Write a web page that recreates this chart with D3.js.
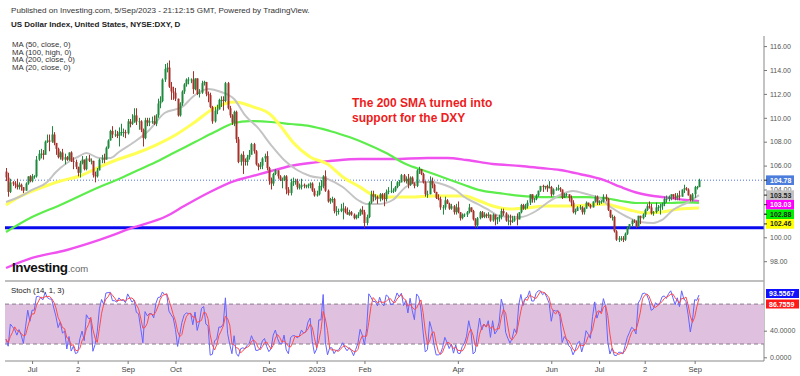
<!DOCTYPE html>
<html><head><meta charset="utf-8">
<script src="https://cdn.jsdelivr.net/npm/d3@7"></script>
<style>body{margin:0;background:#fff;} svg{display:block;font-family:"Liberation Sans",Arial,sans-serif;}</style>
</head><body><svg id="c" width="800" height="376"></svg>
<script>
// ---------------- DATA ----------------
const startDate = [2022, 5, 15]; // first bar: 15 Jun 2022, daily weekday bars
const firstOpen = 105.5;
const closes = [
105.0,103.8,104.6,104.5,104.4,104.2,104.4,104.2,103.9,104.5,105.1,104.7,
105.1,105.1,106.5,107.0,107.0,106.9,108.0,108.1,108.0,108.6,107.9,107.4,106.7,107.1,106.5,106.7,106.5,107.1,106.4,106.3,105.9,
105.4,106.2,106.5,105.7,106.6,106.4,106.4,105.2,105.1,105.6,106.5,106.6,106.5,107.5,108.1,108.9,108.6,108.6,108.5,108.8,108.8,108.8,108.7,
109.7,109.5,109.6,110.2,109.7,109.7,109.0,108.3,109.8,109.6,109.7,109.7,109.5,110.2,111.2,111.4,113.2,114.1,114.2,112.6,112.2,112.1,
111.6,110.2,111.2,112.2,112.8,113.2,113.2,113.2,112.4,113.3,112.0,112.1,112.9,113.0,112.0,111.9,110.9,109.7,110.6,110.7,111.5,
111.5,111.4,112.9,110.8,110.2,109.6,110.5,108.2,106.3,106.9,106.4,106.3,106.7,106.9,107.8,107.2,106.1,105.9,106.0,106.6,106.8,105.8,
104.7,104.5,105.3,105.6,105.1,104.8,104.8,105.1,104.0,103.7,104.6,104.7,104.7,104.2,104.2,104.4,104.3,104.3,104.4,104.5,103.9,103.5,
103.6,104.3,104.3,105.1,103.9,103.0,103.2,103.2,102.2,102.2,102.2,102.4,102.4,102.1,101.9,102.1,101.9,101.6,101.8,101.9,102.3,102.1,
101.2,101.7,102.9,103.6,103.4,103.4,103.2,103.6,103.3,103.2,103.8,103.9,103.9,103.9,104.2,104.6,104.6,105.2,104.7,104.9,
104.4,105.0,104.5,104.3,105.6,105.7,105.3,104.6,103.6,103.6,104.7,104.4,103.8,103.3,103.2,102.5,102.5,103.1,102.8,102.4,102.6,102.1,102.5,
102.1,101.6,101.9,101.9,102.1,102.5,102.2,101.5,101.0,101.6,102.1,101.7,101.9,101.8,101.9,101.4,101.9,101.5,101.6,101.7,
102.2,102.0,101.4,101.4,101.3,101.4,101.6,101.5,102.1,102.7,102.4,102.6,102.9,103.6,103.2,103.2,103.5,103.9,104.3,104.2,104.3,104.1,104.2,
103.6,104.0,104.0,104.1,104.0,103.3,103.6,103.6,103.3,102.9,102.1,102.2,102.5,102.5,102.1,102.4,102.9,102.7,102.5,103.0,103.4,102.9,
103.0,103.0,103.4,103.2,102.3,101.7,101.7,100.5,99.8,99.9,99.9,99.8,100.3,100.8,101.1,101.4,101.3,100.9,101.8,101.6,101.9,
102.3,102.6,102.5,102.0,102.1,102.5,102.5,102.6,102.8,103.2,103.2,103.4,103.6,103.4,103.3,103.5,103.4,104.0,104.1,104.0,103.5,103.1,103.6,
104.2,104.2,104.78];
const highs = [
105.8,105.4,104.9,104.7,104.7,104.9,104.6,104.5,104.2,104.6,105.1,105.2,
105.3,105.2,106.8,107.3,107.4,107.3,108.1,108.6,108.6,109.3,108.8,107.8,107.5,107.2,107.4,107.0,106.8,107.1,107.2,106.7,106.5,
105.9,106.4,106.8,106.5,106.8,106.9,106.6,106.4,105.5,105.8,106.6,106.9,107.0,107.6,108.2,109.0,109.3,109.0,108.9,109.2,109.5,109.1,109.0,
109.9,109.9,110.3,110.8,110.8,110.0,109.8,109.1,110.0,110.0,110.0,110.1,110.2,110.3,111.6,111.8,113.3,114.5,114.6,114.8,113.0,112.6,
112.5,111.6,111.3,112.3,112.9,113.3,113.4,113.3,113.9,113.3,113.3,112.4,113.1,113.1,113.0,112.2,112.1,111.0,110.9,111.1,111.6,
111.8,111.8,113.0,113.0,111.0,110.3,110.6,110.6,108.4,107.0,107.2,106.6,106.9,107.3,107.9,107.9,107.3,106.2,106.3,106.7,107.0,107.2,
105.9,105.0,105.4,105.7,105.6,105.2,105.0,105.2,105.2,104.2,104.9,105.0,104.9,104.9,104.5,104.9,104.5,104.4,104.5,104.6,104.6,104.1,
103.9,104.6,104.8,105.2,105.6,104.0,103.3,103.4,103.3,102.6,102.4,102.8,102.9,102.6,102.5,102.3,102.2,102.0,101.9,102.1,102.4,102.6,
102.3,101.9,103.0,103.9,103.9,103.6,103.5,103.7,103.7,103.7,104.0,104.2,104.7,104.1,104.3,104.7,104.8,105.3,105.3,105.1,
105.3,105.1,105.1,104.6,105.7,105.9,105.7,105.4,104.7,103.9,105.1,105.0,104.5,103.8,103.6,103.4,102.7,103.4,103.2,102.9,102.8,102.7,102.8,
103.0,102.1,102.0,102.0,102.2,102.8,102.5,102.3,101.6,101.7,102.2,102.2,102.1,102.0,102.1,101.9,102.0,101.9,101.7,101.9,
102.4,102.4,102.1,101.9,101.9,101.8,101.8,102.0,102.1,102.8,102.8,102.8,103.1,103.6,103.6,103.3,103.6,103.9,104.3,104.4,104.3,104.4,104.7,
104.3,104.1,104.2,104.4,104.2,104.0,103.7,103.7,103.6,103.5,103.1,102.4,102.6,102.7,102.6,102.5,103.0,102.9,102.8,103.0,103.5,103.5,
103.1,103.1,103.6,103.6,103.3,102.3,101.9,101.8,100.6,100.1,100.1,100.1,100.4,100.9,101.1,101.5,101.5,101.4,101.8,101.8,102.0,
102.4,102.8,103.0,102.8,102.2,102.9,102.7,102.8,102.9,103.4,103.5,103.5,103.6,103.6,103.7,103.7,103.9,104.0,104.4,104.2,104.1,103.6,103.7,
104.3,104.3,104.9];
const lows = [
104.7,103.4,103.7,104.3,104.1,104.0,104.0,103.9,103.7,103.9,104.4,104.6,
104.6,104.9,105.0,106.4,106.6,106.5,107.1,107.9,107.2,107.9,107.7,106.9,106.6,106.5,106.4,106.1,106.4,106.4,106.3,105.7,105.7,
105.1,105.0,106.1,105.6,105.6,106.3,106.1,105.0,104.6,105.0,105.6,106.2,106.2,106.5,107.4,108.1,108.3,108.4,108.3,107.6,108.5,108.4,108.3,
108.6,109.2,109.4,109.6,109.4,109.0,108.8,107.6,108.2,109.3,109.3,109.5,109.4,109.3,110.0,110.8,111.3,113.0,113.8,112.5,111.5,111.5,
111.4,110.1,110.1,111.0,112.0,112.6,112.8,112.9,112.0,112.3,111.9,111.7,112.0,112.7,111.8,111.3,110.8,109.5,109.6,110.3,110.7,
110.9,110.6,111.3,110.7,110.0,109.4,109.3,107.9,106.2,106.0,105.3,106.0,106.0,106.5,107.0,107.0,106.0,105.6,105.7,105.7,106.3,105.6,
104.4,104.0,104.3,105.2,104.9,104.7,104.1,104.7,103.6,103.5,103.5,104.3,104.4,104.0,104.0,104.0,104.1,104.1,104.1,104.1,103.8,103.4,
103.4,103.5,103.9,104.1,103.8,102.9,102.8,102.9,102.0,101.8,101.9,102.1,101.5,102.0,101.9,101.8,101.8,101.5,101.5,101.6,101.8,101.9,
100.8,101.0,101.6,102.8,103.0,103.1,102.8,103.0,103.1,102.6,103.0,103.6,103.7,103.7,103.8,104.1,104.3,104.6,104.6,104.5,
104.1,104.3,104.5,104.1,104.2,105.3,105.2,104.5,103.4,103.3,103.6,104.1,103.7,103.2,103.1,102.3,101.9,102.3,102.8,102.3,102.3,101.9,101.9,
102.0,101.4,101.5,101.7,101.7,102.0,102.1,101.4,100.8,100.8,101.5,101.6,101.6,101.6,101.6,101.3,101.3,101.0,101.1,101.3,
101.5,101.8,101.3,101.0,101.0,101.2,101.3,101.0,101.5,102.0,102.3,102.3,102.4,102.7,102.9,102.9,103.1,103.4,103.8,103.8,104.0,103.8,104.1,
103.4,103.5,103.9,103.9,103.8,103.2,103.3,103.4,103.0,102.6,102.0,101.9,102.2,102.3,101.9,101.9,102.4,102.6,102.4,102.5,102.9,102.7,
102.7,102.8,102.9,103.0,102.2,101.6,101.4,100.4,99.7,99.6,99.7,99.6,99.7,100.2,100.7,100.9,101.2,100.8,100.9,101.1,101.5,
101.7,102.2,102.4,101.9,101.8,102.0,102.2,101.9,102.3,102.6,102.9,103.0,103.1,103.2,103.1,103.1,103.1,103.4,103.7,103.9,103.5,103.0,103.0,
103.3,104.0,104.2];

// Moving averages: [bar index, value]
const ma50 = [[0,102.70],[6,103.37],[16,104.13],[25,104.71],[34,105.13],[43,105.88],[52,106.55],[59,106.97],[69,107.72],[78,108.56],[87,109.65],[96,110.82],[105,111.32],[114,110.90],[122,110.23],[126,109.4],[132,107.97],[140,106.72],[148,106.13],[155,105.05],[163,104.2],[168,103.62],[175,103.37],[186,103.37],[197,103.46],[211,103.46],[218,103.04],[224,102.62],[232,102.37],[240,102.46],[249,102.62],[260,102.62],[269,102.70],[276,102.79],[280,102.62],[287,102.29],[295,102.03],[302,102.12],[310,102.37],[319,102.46]];
const ma100 = [[0,100.44],[12,101.69],[25,102.70],[43,104.21],[52,104.88],[59,105.46],[69,106.30],[78,107.14],[87,107.97],[96,108.81],[105,109.56],[112,109.73],[122,109.65],[131,109.48],[140,109.31],[149,108.90],[158,108.39],[165,107.89],[175,107.05],[184,106.13],[193,105.55],[202,104.96],[211,104.38],[218,103.95],[227,103.70],[237,103.46],[246,103.37],[255,103.37],[267,103.37],[275,103.29],[283,103.04],[290,102.87],[298,102.87],[306,102.87],[313,102.92],[319,102.88]];
const ma200 = [[0,97.43],[12,98.27],[28,98.94],[43,99.78],[58,100.78],[74,101.78],[82,102.62],[93,103.71],[105,104.71],[112,105.05],[122,105.55],[131,105.97],[140,106.22],[149,106.38],[163,106.55],[178,106.55],[194,106.64],[203,106.64],[212,106.47],[224,106.13],[237,105.97],[246,105.80],[255,105.63],[264,105.30],[275,104.80],[283,104.21],[291,103.71],[298,103.46],[306,103.29],[313,103.12],[319,103.03]];
const ma20 = [[0,102.95],[6,103.37],[12,103.96],[19,104.63],[23,105.46],[28,106.22],[33,106.72],[37,107.05],[43,106.64],[48,106.64],[52,107.14],[59,107.97],[66,108.98],[73,110.40],[81,110.90],[87,111.91],[93,112.41],[99,112.16],[105,111.57],[110,110.23],[116,109.15],[122,107.72],[128,106.47],[134,105.63],[140,105.13],[148,104.88],[155,104.21],[162,103.12],[166,102.79],[172,102.79],[178,103.12],[184,104.21],[190,104.63],[196,104.63],[202,104.38],[207,103.96],[211,103.37],[217,102.79],[223,102.20],[227,101.78],[237,101.70],[244,102.20],[249,102.87],[255,103.54],[261,103.87],[267,103.62],[273,103.29],[279,102.45],[286,101.70],[292,101.28],[298,101.20],[302,101.45],[307,102.28],[314,102.95],[319,103.53]];

const priceTicks = [98,100,102,104,106,108,110,112,114,116];
const stochTicks = [0,40];
const xTickDates = ["2022-07-01","2022-08-01","2022-09-01","2022-10-01","2022-12-01","2023-01-01","2023-02-01","2023-04-01","2023-06-01","2023-07-01","2023-08-01","2023-09-01"];
const xTickLabels = ["Jul","2","Sep","Oct","Dec","2023","Feb","Apr","Jun","Jul","2","Sep"];
const supportLevel = 100.8;
const lastPrice = 104.78;
const stochLabels = [93.5567, 86.7559];
const stochBand = [20, 80];
const maLegend = ["MA (50, close, 0)","MA (100, high, 0)","MA (200, close, 0)","MA (20, close, 0)"];

// ---------------- CHART ----------------
const svg = d3.select("#c");
const n = closes.length;
const dates = [];
let dd = new Date(startDate[0], startDate[1], startDate[2]);
while (dates.length < n) { const w = dd.getDay(); if (w !== 0 && w !== 6) dates.push(new Date(dd)); dd = d3.timeDay.offset(dd, 1); }
const opens = closes.map((c, i) => i === 0 ? firstOpen : closes[i - 1]);

const axisX = 764, left = 5;
const x = d3.scaleLinear().domain([0, n - 1]).range([6, 699]);
const y = d3.scaleLinear().domain([98, 116]).range([261.2, 46.1]);
const ys = d3.scaleLinear().domain([0, 100]).range([357.3, 290.8]);

// header
svg.append("text").attr("x", 11).attr("y", 13.3).attr("font-size", 8.1).attr("fill", "#333")
  .text("Published on Investing.com, 5/Sep/2023 - 21:12:15 GMT, Powered by TradingView.");
svg.append("text").attr("x", 11).attr("y", 26.7).attr("font-size", 8).attr("font-weight", "bold").attr("fill", "#222")
  .text("US Dollar Index, United States, NYSE:DXY, D");
maLegend.forEach((t, i) => svg.append("text").attr("x", 12).attr("y", 46.7 + i * 7.8).attr("font-size", 7.8).attr("fill", "#333").text(t));

// horizontal lines
svg.append("line").attr("x1", left).attr("x2", axisX).attr("y1", y(lastPrice)).attr("y2", y(lastPrice))
  .attr("stroke", "#4a6fe0").attr("stroke-width", 1).attr("stroke-dasharray", "1,2");
svg.append("line").attr("x1", left).attr("x2", axisX).attr("y1", y(supportLevel)).attr("y2", y(supportLevel))
  .attr("stroke", "#0a0aee").attr("stroke-width", 3);

// MAs
const maLine = d3.line().x(d => x(d[0])).y(d => y(d[1])).curve(d3.curveMonotoneX);
[[ma200, "#f052f0", 2.4], [ma100, "#5ced4c", 2.2], [ma50, "#ffff55", 3], [ma20, "#c4c4c4", 2]].forEach(([arr, col, w]) => {
  svg.append("path").attr("d", maLine(arr)).attr("fill", "none").attr("stroke", col).attr("stroke-width", w);
});

// candles
const up = "#1f8a3c", dn = "#a8302b";
const cg = svg.append("g");
closes.forEach((c, i) => {
  const o = opens[i], col = c >= o ? up : dn, cx = Math.round(x(i)) + 0.5;
  cg.append("line").attr("x1", cx).attr("x2", cx).attr("y1", y(highs[i])).attr("y2", y(lows[i])).attr("stroke", col).attr("stroke-width", 1);
  const top = y(Math.max(o, c)), bot = y(Math.min(o, c));
  cg.append("rect").attr("x", cx - 1).attr("width", 2).attr("y", top).attr("height", Math.max(0.8, bot - top)).attr("fill", col);
});

// price axis
svg.append("line").attr("x1", axisX).attr("x2", axisX).attr("y1", 36).attr("y2", 361).attr("stroke", "#888").attr("stroke-width", 1);
const pa = svg.append("g").attr("transform", `translate(${axisX},0)`)
  .call(d3.axisRight(y).tickValues(priceTicks).tickFormat(d3.format(".2f")).tickSize(3).tickSizeOuter(0).tickPadding(3));
pa.select(".domain").remove();
pa.selectAll("line").attr("stroke", "#777");
pa.selectAll("text").attr("font-size", 7).attr("fill", "#555").attr("font-family", "Liberation Sans, Arial");

// price labels
const boxes = [
  {v: lastPrice, bg: "#4d7ddc", fg: "#fff"},
  {v: ma20[ma20.length - 1][1], bg: "#c2c2c2", fg: "#222"},
  {v: ma200[ma200.length - 1][1], bg: "#ff00ff", fg: "#fff"},
  {v: ma100[ma100.length - 1][1], bg: "#00f000", fg: "#222"},
  {v: ma50[ma50.length - 1][1], bg: "#ffff00", fg: "#222"}
].sort((a, b) => b.v - a.v);
let prevBottom = -1e9; const bh = 9.6;
boxes.forEach(b => {
  let t = y(b.v) - bh / 2; if (t < prevBottom) t = prevBottom; prevBottom = t + bh;
  svg.append("rect").attr("x", axisX + 2).attr("y", t).attr("width", 28).attr("height", bh).attr("fill", b.bg);
  svg.append("line").attr("x1", axisX).attr("x2", axisX + 3).attr("y1", t + bh / 2).attr("y2", t + bh / 2).attr("stroke", "#222");
  svg.append("text").attr("x", axisX + 6).attr("y", t + bh / 2 + 2.5).attr("font-size", 7).attr("font-weight", "bold").attr("fill", b.fg).text(b.v.toFixed(2));
});

// annotation
svg.append("text").attr("x", 352).attr("y", 107).attr("font-size", 12).attr("font-weight", "bold").attr("fill", "#ee1c1c").text("The 200 SMA turned into");
svg.append("text").attr("x", 352).attr("y", 121.5).attr("font-size", 12).attr("font-weight", "bold").attr("fill", "#ee1c1c").text("support for the DXY");

// logo
const lg = svg.append("text").attr("x", 12).attr("y", 271.5);
lg.append("tspan").attr("font-size", 13.5).attr("font-weight", "bold").attr("fill", "#111").attr("letter-spacing", -0.4).text("Investing");
lg.append("tspan").attr("font-size", 9.5).attr("fill", "#666").text(".com");

// ---------------- STOCHASTIC ----------------
svg.append("line").attr("x1", left).attr("x2", axisX).attr("y1", 281).attr("y2", 281).attr("stroke", "#aaa").attr("stroke-width", 1.6);
svg.append("rect").attr("x", left).attr("width", axisX - left).attr("y", ys(stochBand[1])).attr("height", ys(stochBand[0]) - ys(stochBand[1])).attr("fill", "#dfc1df");
stochBand.forEach(v => svg.append("line").attr("x1", left).attr("x2", axisX).attr("y1", ys(v)).attr("y2", ys(v))
  .attr("stroke", "#8a7a8a").attr("stroke-width", 1).attr("stroke-dasharray", "4,3"));
const K = closes.map((c, i) => {
  const s = Math.max(0, i - 13);
  const hh = d3.max(highs.slice(s, i + 1)), ll = d3.min(lows.slice(s, i + 1));
  return hh > ll ? 100 * (c - ll) / (hh - ll) : 50;
});
const D = K.map((k, i) => d3.mean(K.slice(Math.max(0, i - 2), i + 1)));
const sl = d3.line().x((d, i) => x(i)).y(d => ys(d));
svg.append("path").attr("d", sl(K)).attr("fill", "none").attr("stroke", "#6464ff").attr("stroke-width", 1);
svg.append("path").attr("d", sl(D)).attr("fill", "none").attr("stroke", "#ff4a4a").attr("stroke-width", 1);
svg.append("text").attr("x", 11).attr("y", 293.3).attr("font-size", 7.8).attr("fill", "#222").text("Stoch (14, 1, 3)");

const sa = svg.append("g").attr("transform", `translate(${axisX},0)`)
  .call(d3.axisRight(ys).tickValues(stochTicks).tickFormat(d3.format(".4f")).tickSize(3).tickSizeOuter(0).tickPadding(3));
sa.select(".domain").remove();
sa.selectAll("line").attr("stroke", "#777");
sa.selectAll("text").attr("font-size", 7).attr("fill", "#555").attr("font-family", "Liberation Sans, Arial");
[[stochLabels[0], "#1010ff"], [stochLabels[1], "#ff1a1a"]].forEach(([v, bg], i) => {
  const t = [289, 299.5][i];
  svg.append("rect").attr("x", axisX + 2).attr("y", t).attr("width", 33).attr("height", 9).attr("fill", bg);
  svg.append("text").attr("x", axisX + 5).attr("y", t + 7).attr("font-size", 7).attr("font-weight", "bold").attr("fill", "#fff").text(v.toFixed(4));
});

// x axis
svg.append("line").attr("x1", left).attr("x2", axisX).attr("y1", 361).attr("y2", 361).attr("stroke", "#888");
const tickIdx = xTickDates.map(s => { const t = d3.timeParse("%Y-%m-%d")(s); return dates.findIndex(dt => dt >= t); });
const xa = svg.append("g").attr("transform", "translate(0,361)")
  .call(d3.axisBottom(x).tickValues(tickIdx).tickFormat((d, i) => xTickLabels[i]).tickSize(3).tickSizeOuter(0).tickPadding(3));
xa.select(".domain").remove();
xa.selectAll("line").attr("stroke", "#777");
xa.selectAll("text").attr("font-size", 7.6).attr("fill", "#444").attr("font-family", "Liberation Sans, Arial");
</script></body></html>
